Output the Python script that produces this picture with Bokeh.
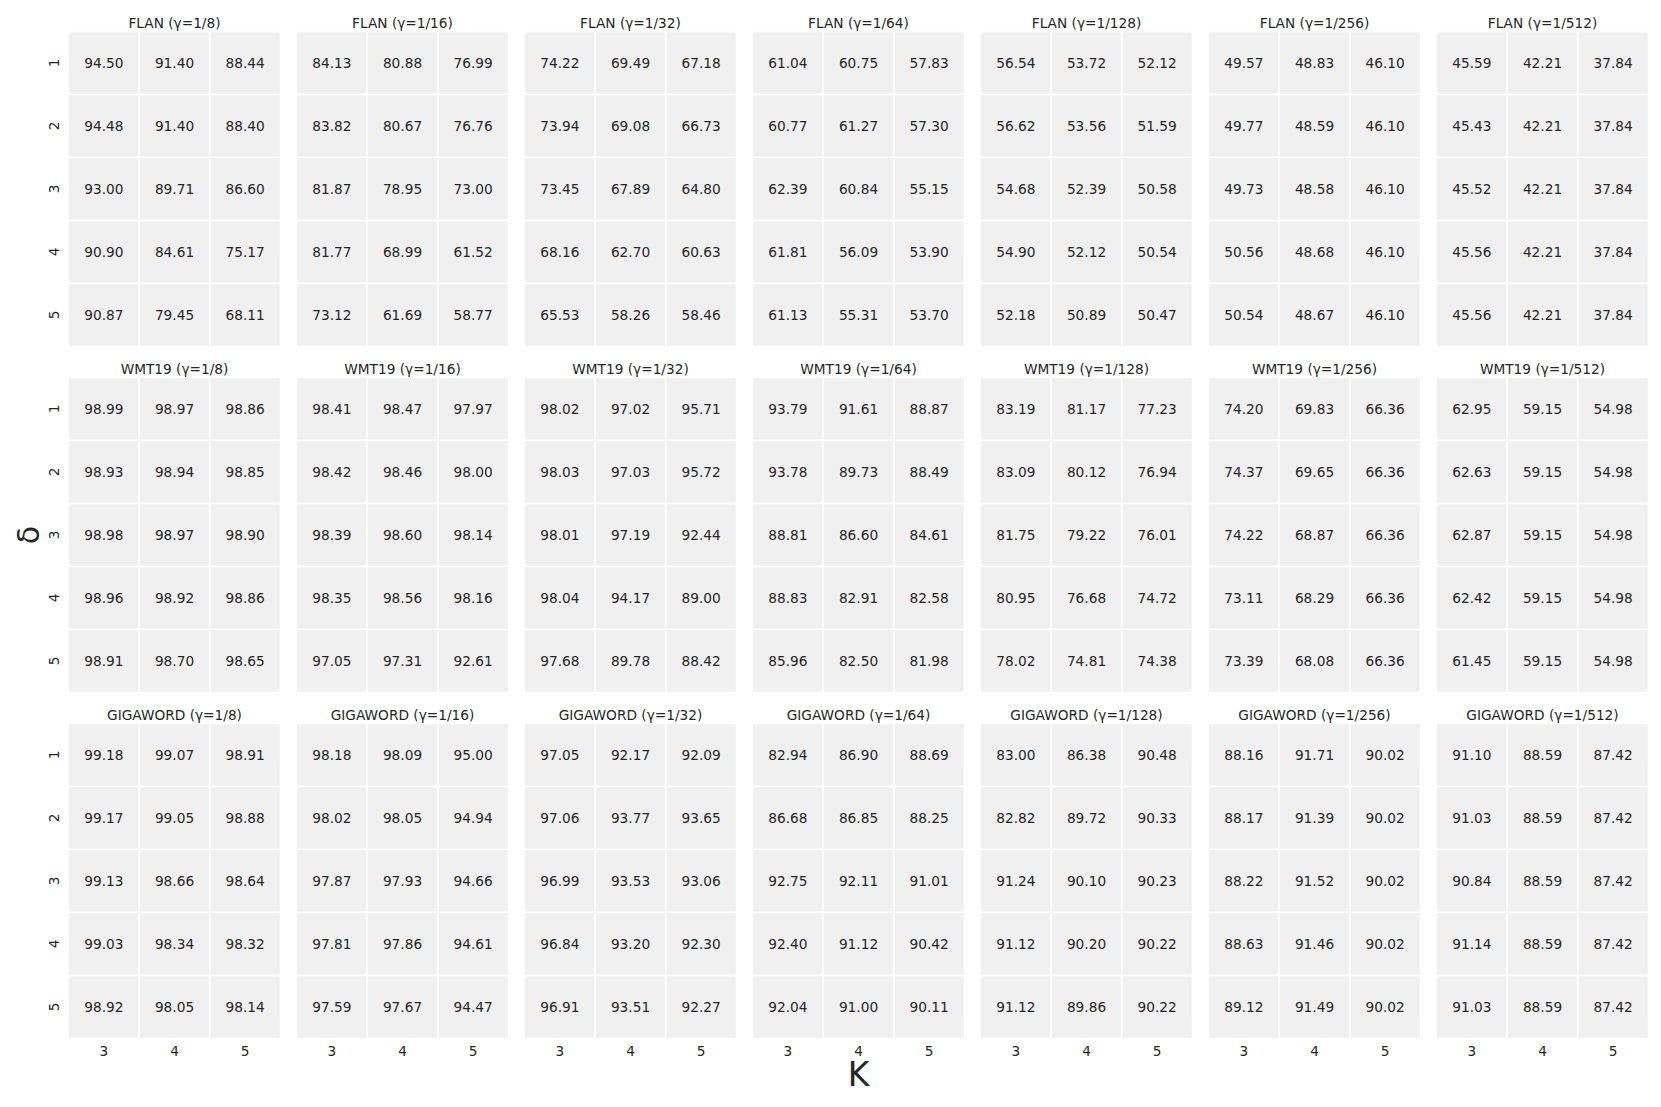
import math
from bokeh.plotting import figure
from bokeh.layouts import gridplot
from bokeh.models import ColumnDataSource, FactorRange
from bokeh.core.properties import value
from bokeh.embed import file_html
from bokeh.resources import INLINE

# ---------------- data ----------------
K_VALUES = ["3", "4", "5"]
DELTAS = ["1", "2", "3", "4", "5"]
GAMMAS = ["1/8", "1/16", "1/32", "1/64", "1/128", "1/256", "1/512"]
DATASETS = ["FLAN", "WMT19", "GIGAWORD"]

# each panel: rows = delta 1..5, columns = K 3,4,5
FLAN = [
    [[94.50, 91.40, 88.44], [94.48, 91.40, 88.40], [93.00, 89.71, 86.60], [90.90, 84.61, 75.17], [90.87, 79.45, 68.11]],
    [[84.13, 80.88, 76.99], [83.82, 80.67, 76.76], [81.87, 78.95, 73.00], [81.77, 68.99, 61.52], [73.12, 61.69, 58.77]],
    [[74.22, 69.49, 67.18], [73.94, 69.08, 66.73], [73.45, 67.89, 64.80], [68.16, 62.70, 60.63], [65.53, 58.26, 58.46]],
    [[61.04, 60.75, 57.83], [60.77, 61.27, 57.30], [62.39, 60.84, 55.15], [61.81, 56.09, 53.90], [61.13, 55.31, 53.70]],
    [[56.54, 53.72, 52.12], [56.62, 53.56, 51.59], [54.68, 52.39, 50.58], [54.90, 52.12, 50.54], [52.18, 50.89, 50.47]],
    [[49.57, 48.83, 46.10], [49.77, 48.59, 46.10], [49.73, 48.58, 46.10], [50.56, 48.68, 46.10], [50.54, 48.67, 46.10]],
    [[45.59, 42.21, 37.84], [45.43, 42.21, 37.84], [45.52, 42.21, 37.84], [45.56, 42.21, 37.84], [45.56, 42.21, 37.84]],
]
WMT19 = [
    [[98.99, 98.97, 98.86], [98.93, 98.94, 98.85], [98.98, 98.97, 98.90], [98.96, 98.92, 98.86], [98.91, 98.70, 98.65]],
    [[98.41, 98.47, 97.97], [98.42, 98.46, 98.00], [98.39, 98.60, 98.14], [98.35, 98.56, 98.16], [97.05, 97.31, 92.61]],
    [[98.02, 97.02, 95.71], [98.03, 97.03, 95.72], [98.01, 97.19, 92.44], [98.04, 94.17, 89.00], [97.68, 89.78, 88.42]],
    [[93.79, 91.61, 88.87], [93.78, 89.73, 88.49], [88.81, 86.60, 84.61], [88.83, 82.91, 82.58], [85.96, 82.50, 81.98]],
    [[83.19, 81.17, 77.23], [83.09, 80.12, 76.94], [81.75, 79.22, 76.01], [80.95, 76.68, 74.72], [78.02, 74.81, 74.38]],
    [[74.20, 69.83, 66.36], [74.37, 69.65, 66.36], [74.22, 68.87, 66.36], [73.11, 68.29, 66.36], [73.39, 68.08, 66.36]],
    [[62.95, 59.15, 54.98], [62.63, 59.15, 54.98], [62.87, 59.15, 54.98], [62.42, 59.15, 54.98], [61.45, 59.15, 54.98]],
]
GIGAWORD = [
    [[99.18, 99.07, 98.91], [99.17, 99.05, 98.88], [99.13, 98.66, 98.64], [99.03, 98.34, 98.32], [98.92, 98.05, 98.14]],
    [[98.18, 98.09, 95.00], [98.02, 98.05, 94.94], [97.87, 97.93, 94.66], [97.81, 97.86, 94.61], [97.59, 97.67, 94.47]],
    [[97.05, 92.17, 92.09], [97.06, 93.77, 93.65], [96.99, 93.53, 93.06], [96.84, 93.20, 92.30], [96.91, 93.51, 92.27]],
    [[82.94, 86.90, 88.69], [86.68, 86.85, 88.25], [92.75, 92.11, 91.01], [92.40, 91.12, 90.42], [92.04, 91.00, 90.11]],
    [[83.00, 86.38, 90.48], [82.82, 89.72, 90.33], [91.24, 90.10, 90.23], [91.12, 90.20, 90.22], [91.12, 89.86, 90.22]],
    [[88.16, 91.71, 90.02], [88.17, 91.39, 90.02], [88.22, 91.52, 90.02], [88.63, 91.46, 90.02], [89.12, 91.49, 90.02]],
    [[91.10, 88.59, 87.42], [91.03, 88.59, 87.42], [90.84, 88.59, 87.42], [91.14, 88.59, 87.42], [91.03, 88.59, 87.42]],
]
PANELS = [FLAN, WMT19, GIGAWORD]

# ---------------- style ----------------
FONT = "DejaVu Sans"
TXT = "#262626"
CELL = "#f0f0f0"
FS = "13.7px"
FRAME_W, FRAME_H = 212, 315
LEFT0, GAP_X = 68, 16

rows = []
for r, ds in enumerate(DATASETS):
    row_figs = []
    for c, g in enumerate(GAMMAS):
        mat = PANELS[r][c]
        xs, ys, labels = [], [], []
        for i, d in enumerate(DELTAS):
            for j, k in enumerate(K_VALUES):
                xs.append(k)
                ys.append(d)
                labels.append(f"{mat[i][j]:.2f}")
        src = ColumnDataSource(dict(x=xs, y=ys, t=labels))

        is_left = c == 0
        is_bottom = r == len(DATASETS) - 1
        p = figure(
            x_range=FactorRange(*K_VALUES),
            y_range=FactorRange(*reversed(DELTAS)),
            frame_width=FRAME_W, frame_height=FRAME_H,
            output_backend="svg", toolbar_location=None,
            x_axis_location="below" if is_bottom else None,
            y_axis_location="left" if is_left else None,
            min_border_left=LEFT0 if is_left else GAP_X,
            min_border_right=0,
            min_border_top=31,
            min_border_bottom=60 if is_bottom else 0,
            title=f"{ds} (γ={g})",
        )
        p.outline_line_color = None
        p.background_fill_color = "white"
        p.border_fill_color = "white"
        p.grid.visible = False
        p.title.align = "center"
        p.title.text_font = FONT
        p.title.text_font_size = FS
        p.title.text_font_style = "normal"
        p.title.text_color = TXT
        p.title.standoff = 2
        p.title.offset = 0

        p.rect(x="x", y="y", width=1, height=1, source=src,
               fill_color=CELL, line_color="white", line_width=1.5)
        p.text(x="x", y="y", text="t", source=src,
               text_font=value(FONT), text_font_size=FS, text_color=TXT,
               text_align="center", text_baseline="middle")

        for ax in p.axis:
            ax.axis_line_color = None
            ax.major_tick_line_color = None
            ax.minor_tick_line_color = None
            ax.major_label_text_font = FONT
            ax.major_label_text_font_size = FS
            ax.major_label_text_color = TXT
            ax.axis_label_text_font = FONT
            ax.axis_label_text_font_style = "normal"
            ax.axis_label_text_color = TXT
        if is_left:
            p.yaxis.major_label_orientation = "vertical"
            p.yaxis.major_label_standoff = 4
            p.yaxis.axis_label_text_font_size = "30px"
            p.yaxis.axis_label_standoff = 0
            if r == 1:
                p.yaxis.axis_label = "δ"
        if is_bottom:
            p.xaxis.major_label_standoff = 1
            p.xaxis.axis_label_text_font_size = "33px"
            p.xaxis.axis_label_standoff = -4
            if c == 3:
                p.xaxis.axis_label = "K"
        row_figs.append(p)
    rows.append(row_figs)

layout = gridplot(rows, toolbar_location=None)
open("out.html", "w").write(file_html(layout, INLINE))
